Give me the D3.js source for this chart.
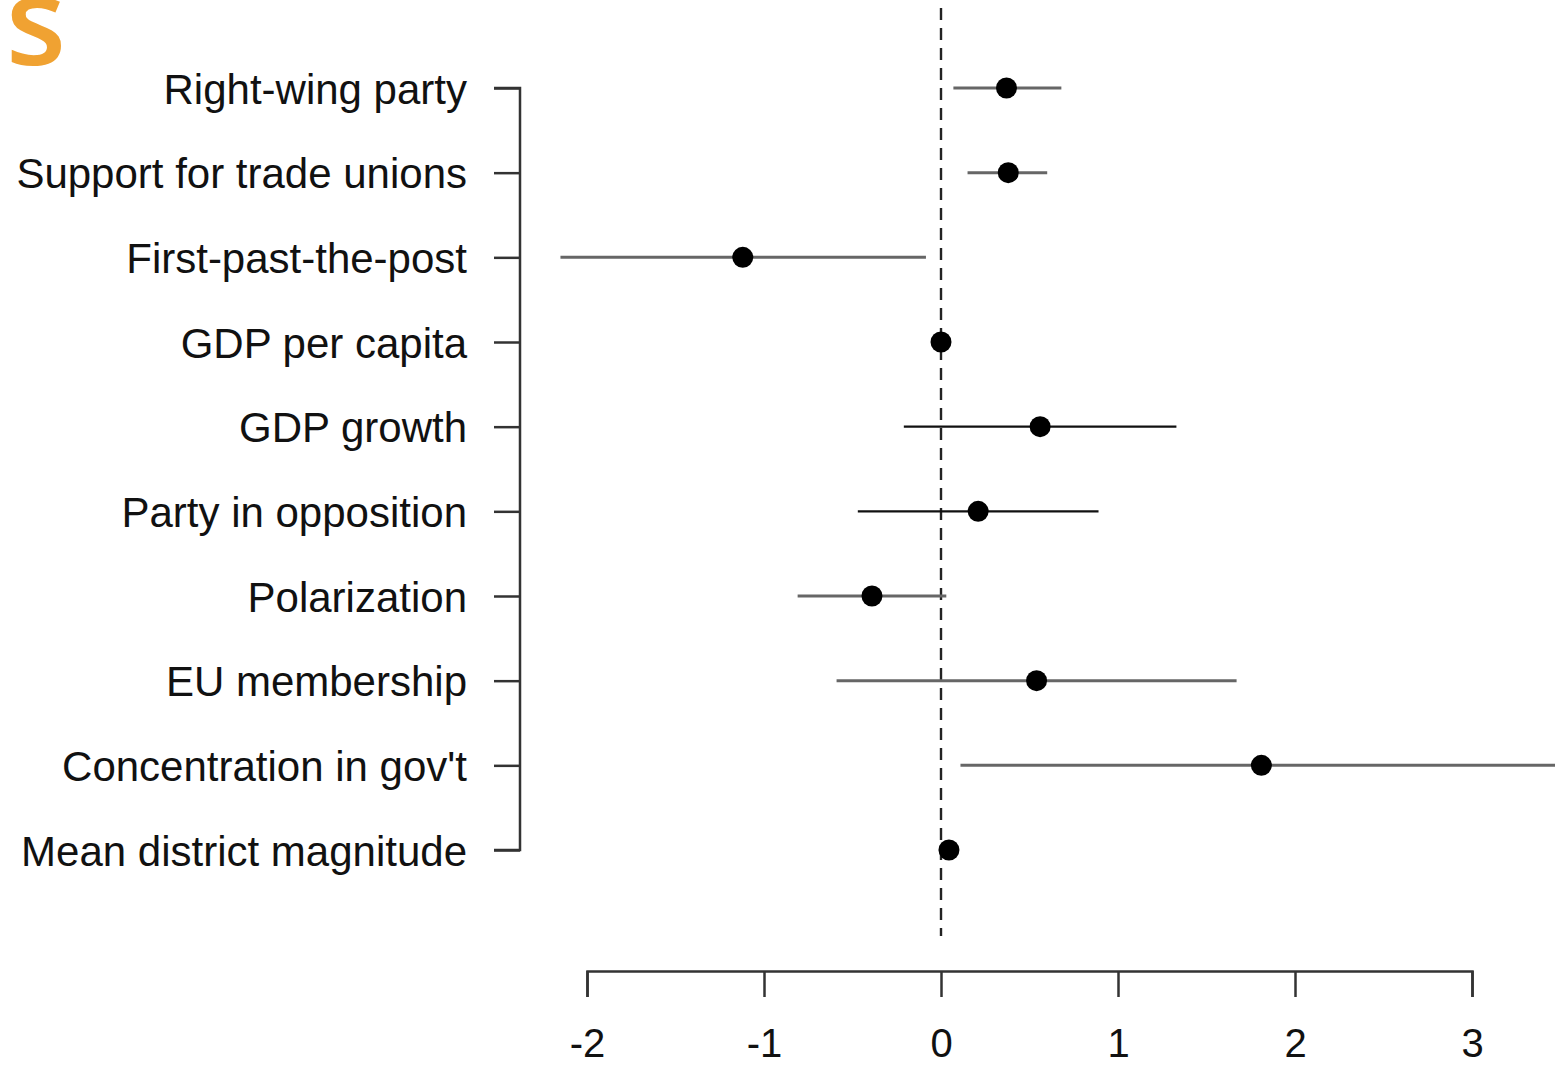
<!DOCTYPE html>
<html>
<head>
<meta charset="utf-8">
<script src="https://cdn.jsdelivr.net/npm/d3@7"></script>
<style>
  body { margin: 0; background: #fff; }
  svg { display: block; }
</style>
</head>
<body>
<div id="chart"></div>
<script>
// coefficient estimates with interval bounds
var labels = ["Right-wing party", "Support for trade unions", "First-past-the-post",
              "GDP per capita", "GDP growth", "Party in opposition", "Polarization",
              "EU membership", "Concentration in gov't", "Mean district magnitude"];
var estimates = [0.37, 0.38, -1.12, 0.0, 0.56, 0.21, -0.39, 0.54, 1.81, 0.045];
var lower     = [0.07, 0.15, -2.15, -0.005, -0.21, -0.47, -0.81, -0.59, 0.11, 0.03];
var upper     = [0.68, 0.60, -0.085, 0.005, 1.33, 0.89, 0.03, 1.67, 3.6, 0.06];
var lineGroup = ["a", "a", "a", "a", "b", "b", "a", "a", "a", "a"];
var xTicks = [-2, -1, 0, 1, 2, 3];

var width = 1555, height = 1068;
var font = "'Liberation Sans', Arial, sans-serif";

var svg = d3.select("#chart").append("svg")
    .attr("width", width)
    .attr("height", height);

var x = d3.scaleLinear().domain([-2, 3]).range([587, 1472]);
var y = d3.scalePoint().domain(labels).range([88, 850]);

var lineColor = d3.scaleOrdinal().domain(["a", "b"]).range(["#666", "#111"]);
var lineWidth = d3.scaleOrdinal().domain(["a", "b"]).range([3, 2.2]);

// orange title fragment at the top left
svg.append("text")
    .attr("x", 66).attr("y", 65)
    .attr("text-anchor", "end")
    .style("font-family", "'Open Sans', sans-serif")
    .style("font-weight", 600)
    .style("font-size", "124px")
    .style("fill", "#F0A232")
    .text("s");

// dashed zero line
svg.append("line")
    .attr("x1", x(0)).attr("x2", x(0))
    .attr("y1", 8).attr("y2", 936)
    .attr("stroke", "#222")
    .attr("stroke-width", 2.4)
    .attr("stroke-dasharray", "12,8");

// left axis (bracket)
var yAxis = d3.axisLeft(y).tickSize(26).tickPadding(27);
var gy = svg.append("g")
    .attr("transform", "translate(520,0)")
    .call(yAxis);
gy.select(".domain")
    .attr("d", "M-26," + y(labels[0]) + "H0V" + y(labels[labels.length - 1]) + "H-26")
    .attr("stroke", "#333").attr("stroke-width", 2.5).attr("fill", "none");
gy.selectAll(".tick line").attr("stroke", "#333").attr("stroke-width", 2.5);
gy.selectAll(".tick text")
    .style("font-family", font)
    .style("font-size", "42px")
    .style("fill", "#111")
    .attr("dy", "0.36em");

// bottom axis
var xAxis = d3.axisBottom(x).tickValues(xTicks).tickSize(26).tickPadding(32)
    .tickFormat(d3.format("d"));
var gx = svg.append("g")
    .attr("transform", "translate(0,971)")
    .call(xAxis);
gx.select(".domain").attr("stroke", "#333").attr("stroke-width", 2.5);
gx.selectAll(".tick line").attr("stroke", "#333").attr("stroke-width", 2.5);
gx.selectAll(".tick text")
    .style("font-family", font)
    .style("font-size", "40px")
    .style("fill", "#111")
    .text(function(d) { return d < 0 ? "-" + Math.abs(d) : d; });

// interval lines
svg.append("g").selectAll("line")
    .data(labels)
    .enter().append("line")
    .attr("x1", function(d, i) { return x(lower[i]); })
    .attr("x2", function(d, i) { return x(upper[i]); })
    .attr("y1", function(d) { return y(d); })
    .attr("y2", function(d) { return y(d); })
    .attr("stroke", function(d, i) { return lineColor(lineGroup[i]); })
    .attr("stroke-width", function(d, i) { return lineWidth(lineGroup[i]); });

// point estimates
svg.append("g").selectAll("circle")
    .data(labels)
    .enter().append("circle")
    .attr("cx", function(d, i) { return x(estimates[i]); })
    .attr("cy", function(d) { return y(d); })
    .attr("r", 10.5)
    .attr("fill", "#000");
</script>
</body>
</html>
